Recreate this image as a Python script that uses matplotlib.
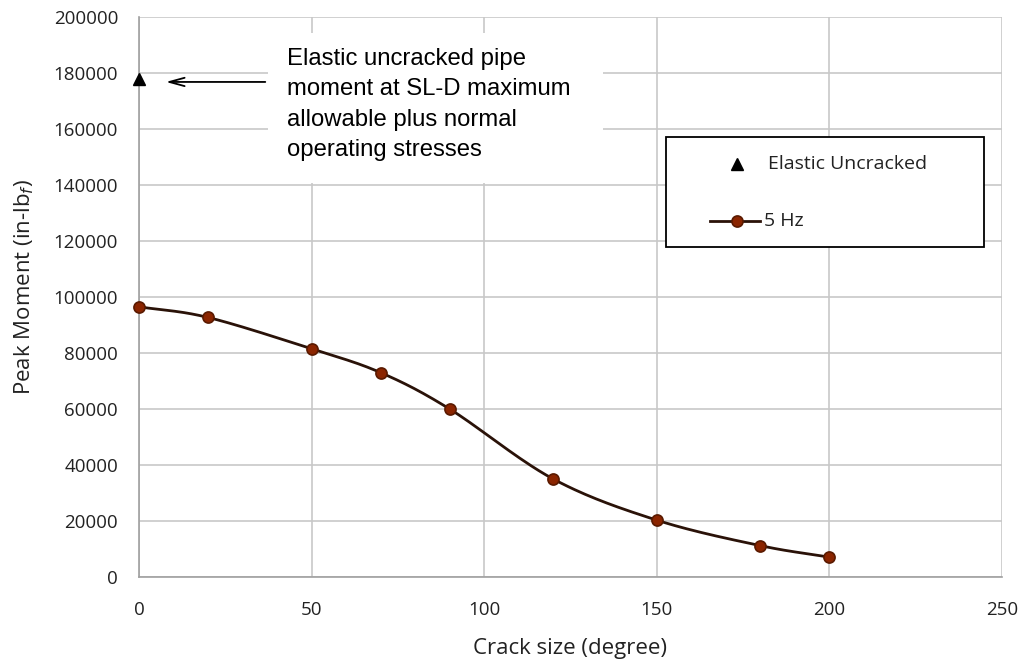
import numpy as np
import matplotlib.pyplot as plt
from matplotlib.lines import Line2D
from matplotlib.patches import Rectangle

# crack size (degree) vs peak moment (in-lbf), 5 Hz input
crack_deg = [0, 20, 50, 70, 90, 120, 150, 180, 200]
moment_5hz = [96500, 92700, 81500, 73000, 60000, 35000, 20300, 11200, 7100]

# elastic uncracked reference moment
elastic_x = [0]
elastic_y = [178000]

x_ticks = [0, 50, 100, 150, 200, 250]
y_ticks = list(range(0, 200001, 20000))

LINE_COLOR = "#2a1208"
MARKER_FACE = "#8b2500"
MARKER_EDGE = "#5a1a00"
TXT = "#222222"
UI_FONT = "Open Sans"


def smooth(x, y, n=30):
    """Catmull-Rom curve through the points, like a spreadsheet 'smoothed line'."""
    x = np.asarray(x, float)
    y = np.asarray(y, float)
    px = np.concatenate([[2 * x[0] - x[1]], x, [2 * x[-1] - x[-2]]])
    py = np.concatenate([[2 * y[0] - y[1]], y, [2 * y[-1] - y[-2]]])
    xs, ys = [], []
    t = np.linspace(0, 1, n)
    for i in range(1, len(px) - 2):
        for p, out in ((px, xs), (py, ys)):
            p0, p1, p2, p3 = p[i - 1], p[i], p[i + 1], p[i + 2]
            out.append(0.5 * (2 * p1 + (-p0 + p2) * t
                              + (2 * p0 - 5 * p1 + 4 * p2 - p3) * t ** 2
                              + (-p0 + 3 * p1 - 3 * p2 + p3) * t ** 3))
    return np.concatenate(xs), np.concatenate(ys)


fig = plt.figure(figsize=(10.24, 6.61), dpi=100)
ax = fig.add_axes([0.1357, 0.1271, 0.8428, 0.8472])

ax.grid(True, color="#c8c8c8", linewidth=1.2)
ax.set_axisbelow(True)
for side in ("top", "right"):
    ax.spines[side].set_visible(False)
for side in ("left", "bottom"):
    ax.spines[side].set_color("#a0a0a0")
    ax.spines[side].set_linewidth(1.2)

sx, sy = smooth(crack_deg, moment_5hz)
ax.plot(sx, sy, color=LINE_COLOR, linewidth=2.0, zorder=3)
ax.plot(crack_deg, moment_5hz, "o", ms=8, mfc=MARKER_FACE, mec=MARKER_EDGE,
        mew=1.2, zorder=4, clip_on=False)
ax.plot(elastic_x, elastic_y, "^", ms=9, color="black", zorder=4,
        clip_on=False)

ax.set_xlim(0, 250)
ax.set_ylim(0, 200000)
ax.set_xticks(x_ticks)
ax.set_yticks(y_ticks)
ax.tick_params(axis="y", length=0, pad=15, labelsize=13.5, labelcolor=TXT)
ax.tick_params(axis="x", length=0, pad=17, labelsize=13.5, labelcolor=TXT)
for lab in ax.get_xticklabels() + ax.get_yticklabels():
    lab.set_fontfamily(UI_FONT)

ax.set_xlabel("Crack size (degree)", fontsize=16, family=UI_FONT, color=TXT,
              va="center")
ax.xaxis.set_label_coords(0.5, -0.127)
ax.set_ylabel("Peak Moment (in-lb$_f$)", fontsize=16, family=UI_FONT,
              color=TXT, va="center")
ax.yaxis.set_label_coords(-0.133, 0.518)

# callout for the elastic reference point, on a white panel over the grid
ax.add_patch(Rectangle((37.4, 140700), 97.1, 53600, fc="white", ec="none",
                       zorder=2.5))
ax.text(43, 189000, "Elastic uncracked pipe\nmoment at SL-D maximum\n"
        "allowable plus normal\noperating stresses",
        ha="left", va="top", fontsize=17.2, family="Liberation Sans",
        linespacing=1.5, zorder=5)
ax.annotate("", xy=(7, 176800), xytext=(37.4, 176800),
            arrowprops=dict(arrowstyle="->,head_length=1.1,head_width=0.3",
                            color="black", lw=1.3), zorder=6)

# legend drawn as a framed panel in axes coordinates
tr = ax.transAxes
ax.add_patch(Rectangle((0.6107, 0.5893), 0.3683, 0.1964, transform=tr,
                       fc="white", ec="black", lw=1.3, zorder=6))
ax.add_line(Line2D([0.693], [0.7375], transform=tr, marker="^", ls="none",
                   color="black", ms=9, zorder=7))
ax.text(0.729, 0.7375, "Elastic Uncracked", transform=tr, ha="left",
        va="center", fontsize=14, family=UI_FONT, color=TXT, zorder=7)
ax.add_line(Line2D([0.6617, 0.7196], [0.6357, 0.6357], transform=tr,
                   color=LINE_COLOR, lw=2, zorder=7))
ax.add_line(Line2D([0.693], [0.6357], transform=tr, marker="o", ls="none",
                   ms=8, mfc=MARKER_FACE, mec=MARKER_EDGE, mew=1.2,
                   zorder=8))
ax.text(0.7245, 0.6357, "5 Hz", transform=tr, ha="left", va="center",
        fontsize=14, family=UI_FONT, color=TXT, zorder=7)

fig.savefig("out.png", dpi=100, facecolor="white")
plt.close(fig)
